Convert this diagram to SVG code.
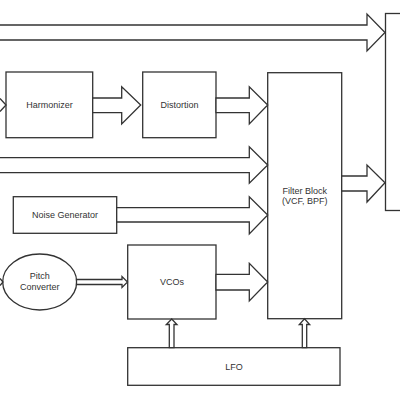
<svg xmlns="http://www.w3.org/2000/svg" width="400" height="400" viewBox="0 0 400 400">
<style>
.b{fill:#fff;stroke:#333;stroke-width:1.3}
.a{fill:#fff;stroke:#333;stroke-width:1.3;stroke-linejoin:miter}
.t{font-family:"Liberation Sans",Arial,sans-serif;font-size:9px;fill:#333;text-anchor:middle}
.c{fill:none;stroke:#333;stroke-width:1.3}
</style>
<rect width="400" height="400" fill="#fff"/>
<g id="mixer"><rect class="b" x="385.5" y="13.5" width="30" height="197"/></g>
<g id="harmonizer"><rect class="b" x="6" y="72" width="86.7" height="65.7"/><text class="t" x="49.5" y="108">Harmonizer</text></g>
<g id="distortion"><rect class="b" x="142.7" y="72" width="73.3" height="65.7"/><text class="t" x="179.5" y="108">Distortion</text></g>
<g id="filter"><rect class="b" x="267.7" y="72.7" width="74" height="246"/><text class="t" x="304.7" y="194">Filter Block</text><text class="t" x="304.7" y="204">(VCF, BPF)</text></g>
<g id="noise"><rect class="b" x="13.3" y="196.7" width="103.4" height="36.6"/><text class="t" x="65" y="218">Noise Generator</text></g>
<g id="vcos"><rect class="b" x="127.7" y="245" width="88.3" height="74"/><text class="t" x="172" y="285">VCOs</text></g>
<g id="pitch"><ellipse class="b" cx="39.7" cy="282" rx="37" ry="28"/><text class="t" x="39.7" y="279">Pitch</text><text class="t" x="39.7" y="290">Converter</text></g>
<g id="lfo"><rect class="b" x="127.7" y="347.7" width="212.3" height="37.6"/><text class="t" x="234" y="369.5">LFO</text></g>
<g id="connectors">
<path class="a" d="M-2,25 H367 V14 L385,32.5 L367,51 V40 H-2 Z"/>
<path class="a" d="M92.7,98 H121.7 V86.7 L140.7,105 L121.7,124 V112.7 H92.7 Z"/>
<path class="a" d="M216,98 H249.3 V86.7 L267.7,105 L249.3,124 V112.7 H216 Z"/>
<path class="a" d="M-2,157.7 H249.3 V146.7 L267.7,165 L249.3,183.3 V172.7 H-2 Z"/>
<path class="a" d="M116.7,207.7 H249.3 V196.7 L267.7,215 L249.3,234 V222 H116.7 Z"/>
<path class="a" d="M216,274.3 H249.3 V263.3 L267.7,282 L249.3,301 V290 H216 Z"/>
<path class="a" d="M341.7,176 H367 V165 L385,182.7 L367,202 V191 H341.7 Z"/>
<path class="a" d="M76.5,279.5 H122 V276.5 L127.5,282 L122,287.5 V284.5 H76.5 Z"/>
<path class="a" d="M169.3,347.7 V324.5 H166.3 L171.7,319 L177,324.5 H174 V347.7 Z"/>
<path class="a" d="M302.3,347.7 V324.5 H299.3 L304.5,318.7 L309.7,324.5 H306.7 V347.7 Z"/>
<polyline class="c" points="0,98.5 6,105 0,111.5"/>
<polyline class="c" points="0,278.5 3,282 0,285.5"/>
</g>
</svg>
